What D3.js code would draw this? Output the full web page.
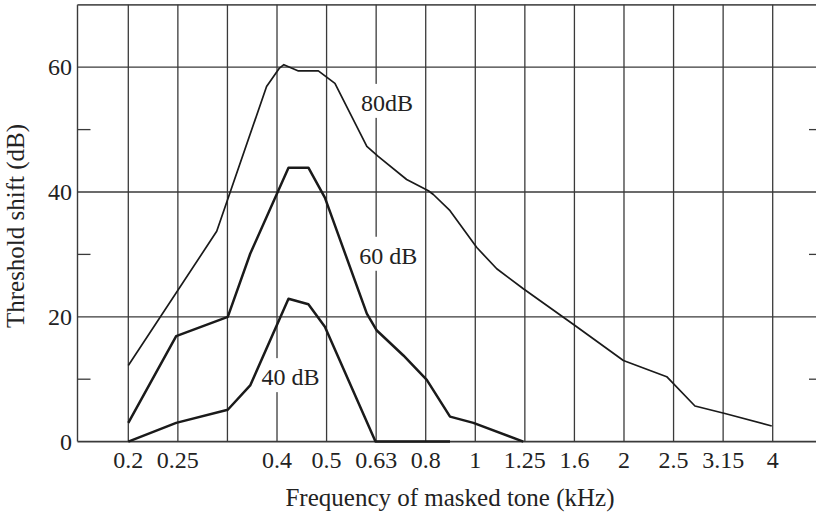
<!DOCTYPE html>
<html>
<head>
<meta charset="utf-8">
<script src="https://cdn.jsdelivr.net/npm/d3@7"></script>
<style>
  html, body { margin: 0; padding: 0; background: #fff; }
  svg { display: block; }
  text { font-family: "Liberation Serif", "Times New Roman", serif; fill: #222; }
</style>
</head>
<body>
<svg id="chart" width="816" height="512"></svg>
<script>
// Third-octave band labels along the frequency axis (kHz); the 0.315 band has no label
const bandLabels = ["0.2", "0.25", "", "0.4", "0.5", "0.63", "0.8", "1", "1.25", "1.6", "2", "2.5", "3.15", "4"];
const yMajorTicks = [0, 20, 40, 60];
const yMinorTicks = [10, 30, 50];

// Masker level 80 dB
const freq80 = [0.200, 0.302, 0.381, 0.404, 0.413, 0.442, 0.485, 0.524, 0.608, 0.641, 0.732, 0.810, 0.829, 0.896, 1.015, 1.114, 1.261, 1.604, 2.010, 2.460, 2.806, 3.227, 4.014];
const shift80 = [12.2, 33.7, 56.9, 59.8, 60.4, 59.4, 59.4, 57.4, 47.3, 45.7, 42.0, 40.2, 39.6, 37.0, 31.1, 27.7, 24.5, 18.6, 13.0, 10.4, 5.7, 4.5, 2.5];

// Masker level 60 dB
const freq60 = [0.200, 0.250, 0.318, 0.353, 0.422, 0.463, 0.500, 0.608, 0.637, 0.721, 0.804, 0.896, 0.999, 1.261];
const shift60 = [3.0, 16.9, 20.0, 30.1, 43.9, 43.9, 39.1, 20.5, 17.8, 13.8, 9.9, 4.0, 3.0, 0.0];

// Masker level 40 dB
const freq40 = [0.200, 0.250, 0.318, 0.353, 0.422, 0.463, 0.500, 0.633, 0.896];
const shift40 = [0.0, 3.0, 5.1, 9.0, 22.9, 22.0, 18.4, 0.0, 0.0];

const curveNames = ["80dB", "60 dB", "40 dB"];

// ---- layout ----
const svg = d3.select("#chart");
const W = 816, H = 512;
const frameLeft = 77.5;
const fMax = 0.2 * Math.pow(2, 13 / 3);
const bandCentres = bandLabels.map((_, i) => 0.2 * Math.pow(2, i / 3));

const x = d3.scaleLog().domain([0.2, fMax]).range([128.3, 772.7]);
const y = d3.scaleLinear().domain([0, 70]).range([441.6, 4.8]);

const ink = "#1a1a1a";
const gridInk = "#3a3a3a";

// frame: left edge and top edge
const g = svg.append("g");
g.append("line").attr("x1", frameLeft).attr("x2", frameLeft)
  .attr("y1", y(70)).attr("y2", y(0))
  .attr("stroke", gridInk).attr("stroke-width", 1.4);
g.append("line").attr("x1", frameLeft).attr("x2", W)
  .attr("y1", y(70)).attr("y2", y(70))
  .attr("stroke", "#555").attr("stroke-width", 1.8);

// horizontal grid at the major dB values (0 line doubles as the axis)
g.selectAll("line.hgrid").data(yMajorTicks).join("line")
  .attr("class", "hgrid")
  .attr("x1", frameLeft).attr("x2", W)
  .attr("y1", d => y(d)).attr("y2", d => y(d))
  .attr("stroke", gridInk).attr("stroke-width", d => d === 0 ? 1.6 : 1.3);

// vertical grid at every third-octave band
g.selectAll("line.vgrid").data(bandCentres).join("line")
  .attr("class", "vgrid")
  .attr("x1", d => x(d)).attr("x2", d => x(d))
  .attr("y1", y(70)).attr("y2", y(0))
  .attr("stroke", gridInk).attr("stroke-width", 1.3);

// short minor ticks on both sides
g.selectAll("line.ltick").data(yMinorTicks).join("line")
  .attr("x1", frameLeft).attr("x2", frameLeft + 13)
  .attr("y1", d => y(d)).attr("y2", d => y(d))
  .attr("stroke", gridInk).attr("stroke-width", 1.3);
g.selectAll("line.rtick").data(yMinorTicks).join("line")
  .attr("x1", W - 7).attr("x2", W)
  .attr("y1", d => y(d)).attr("y2", d => y(d))
  .attr("stroke", gridInk).attr("stroke-width", 1.3);

// y tick labels
g.selectAll("text.ylab").data(yMajorTicks).join("text")
  .attr("x", 72).attr("y", d => y(d)).attr("dy", "0.34em")
  .attr("text-anchor", "end").attr("font-size", 24)
  .text(d => d);

// x tick labels
g.selectAll("text.xlab").data(bandCentres).join("text")
  .attr("x", d => x(d)).attr("y", 468.3)
  .attr("text-anchor", "middle").attr("font-size", 24)
  .text((d, i) => bandLabels[i]);

// axis titles
svg.append("text")
  .attr("x", 450).attr("y", 506)
  .attr("text-anchor", "middle").attr("font-size", 25)
  .text("Frequency of masked tone (kHz)");
svg.append("text")
  .attr("transform", "translate(23.5,226) rotate(-90)")
  .attr("text-anchor", "middle").attr("font-size", 25)
  .text("Threshold shift (dB)");

// curve labels sit on the grid with a white knock-out behind them
const labelAnchors = [
  { f: 0.592, db: 53.0 },
  { f: 0.587, db: 28.5 },
  { f: 0.372, db: 9.05 }
];
const labelLayer = svg.append("g");
const curveLayer = svg.append("g");
const textLayer = svg.append("g");

curveNames.forEach((name, i) => {
  const t = textLayer.append("text")
    .attr("x", x(labelAnchors[i].f)).attr("y", y(labelAnchors[i].db))
    .attr("font-size", 24)
    .text(name);
  const bb = t.node().getBBox();
  labelLayer.append("rect")
    .attr("x", bb.x).attr("y", bb.y - 6)
    .attr("width", bb.width).attr("height", bb.height + 8)
    .attr("fill", "#fff");
});

// the three masking curves
const line = d3.line().x(d => x(d[0])).y(d => y(d[1]));
const curves = [
  { f: freq80, s: shift80, w: 1.7 },
  { f: freq60, s: shift60, w: 2.5 },
  { f: freq40, s: shift40, w: 2.5 }
];
curves.forEach(c => {
  curveLayer.append("path")
    .datum(c.f.map((f, i) => [f, c.s[i]]))
    .attr("d", line)
    .attr("fill", "none")
    .attr("stroke", ink)
    .attr("stroke-width", c.w)
    .attr("stroke-linejoin", "round")
    .attr("stroke-linecap", "butt");
});
</script>
</body>
</html>
